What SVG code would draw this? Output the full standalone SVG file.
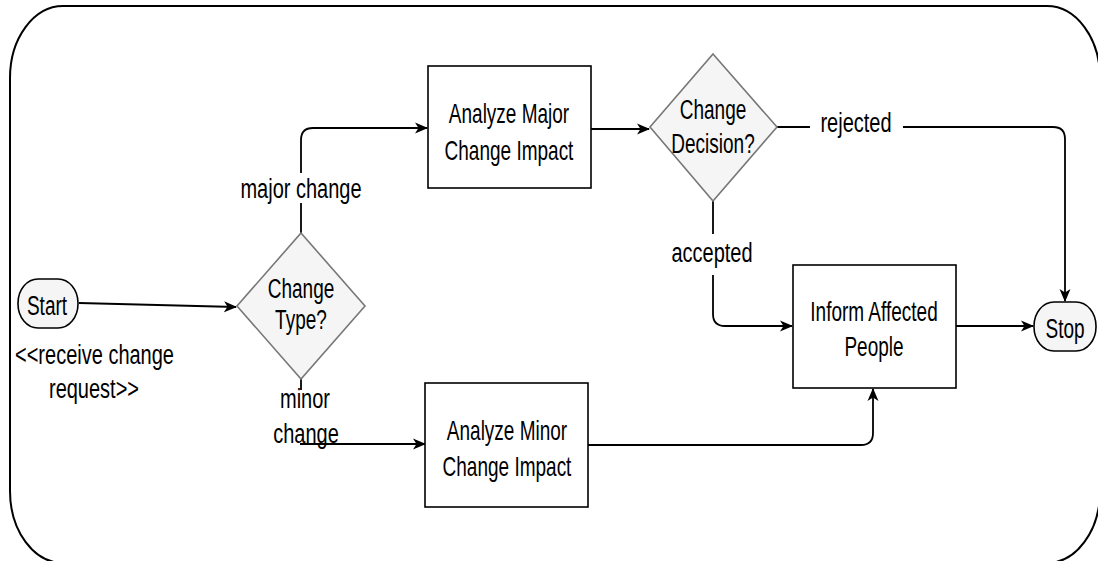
<svg xmlns="http://www.w3.org/2000/svg" width="1098" height="561" viewBox="0 0 1098 561">
<defs>
<style>
.frame{fill:#fff;stroke:#000;stroke-width:2}
.box{fill:#fff;stroke:#000;stroke-width:1.6}
.pill{fill:#f5f5f5;stroke:#000;stroke-width:1.6}
.dia{fill:#f5f5f5;stroke:#777;stroke-width:1.6}
.edge{fill:none;stroke:#000;stroke-width:1.8}
.lbl{fill:#fff;stroke:none}
text{font-family:"Liberation Sans",Arial,sans-serif;fill:#000;text-anchor:middle}
.n{font-size:19px}
.l{font-size:20px}
</style>
<marker id="arr" markerUnits="userSpaceOnUse" markerWidth="13" markerHeight="12" viewBox="0 0 13 12" refX="12" refY="6" orient="auto">
<path d="M0,0.5 L13,6 L0,11.5 L3.5,6 z" fill="#000"/>
</marker>
</defs>
<rect class="frame" x="10" y="6" width="1090" height="557" rx="53" ry="72"/>
<g id="connectors">
<path class="edge" d="M79,303 L236,307" marker-end="url(#arr)"/>
<path class="edge" d="M301,233 V140 Q301,128 313,128 H427" marker-end="url(#arr)"/>
<path class="edge" d="M301,379 V390"/>
<path class="edge" d="M300,444 H425" marker-end="url(#arr)"/>
<path class="edge" d="M591,129 H649" marker-end="url(#arr)"/>
<path class="edge" d="M777,127 H1053 Q1065,127 1065,139 V301" marker-end="url(#arr)"/>
<path class="edge" d="M713,201 V314 Q713,326 725,326 H792" marker-end="url(#arr)"/>
<path class="edge" d="M956,326 H1033" marker-end="url(#arr)"/>
<path class="edge" d="M588,445 H861 Q873,445 873,433 V389" marker-end="url(#arr)"/>
<rect class="lbl" x="236" y="173" width="130" height="30"/>
<text class="l" transform="translate(301,198) scale(1,1.4)">major change</text>
<rect class="lbl" x="810" y="112" width="93" height="28"/>
<text class="l" transform="translate(856,132) scale(1,1.4)">rejected</text>
<rect class="lbl" x="668" y="234" width="90" height="41"/>
<text class="l" transform="translate(712,262) scale(1,1.4)">accepted</text>
<text class="l" transform="translate(305,408) scale(1,1.4)">minor</text>
<text class="l" transform="translate(306,443) scale(1,1.4)">change</text>
</g>
<g id="start">
<rect class="pill" x="18" y="279" width="60" height="49" rx="20" ry="24"/>
<text class="n" transform="translate(47,315) scale(1,1.42)">Start</text>
<text class="l" style="text-anchor:start" transform="translate(15,364) scale(1,1.4)">&lt;&lt;receive change</text>
<text class="l" transform="translate(94,398) scale(1,1.4)">request&gt;&gt;</text>
</g>
<g id="change-type">
<polygon class="dia" points="301,233 365,306 301,379 237,306"/>
<text class="n" transform="translate(301,298) scale(1,1.42)">Change</text>
<text class="n" transform="translate(301,329) scale(1,1.42)">Type?</text>
</g>
<g id="analyze-major">
<rect class="box" x="428" y="66" width="163" height="122"/>
<text class="n" transform="translate(509,123) scale(1,1.45)">Analyze Major</text>
<text class="n" transform="translate(509,160) scale(1,1.45)">Change Impact</text>
</g>
<g id="change-decision">
<polygon class="dia" points="713,54 777,127 713,201 650,127"/>
<text class="n" transform="translate(713,119) scale(1,1.42)">Change</text>
<text class="n" transform="translate(713,153) scale(1,1.42)">Decision?</text>
</g>
<g id="analyze-minor">
<rect class="box" x="425" y="383" width="163" height="124"/>
<text class="n" transform="translate(507,440) scale(1,1.45)">Analyze Minor</text>
<text class="n" transform="translate(507,476) scale(1,1.45)">Change Impact</text>
</g>
<g id="inform">
<rect class="box" x="793" y="265" width="163" height="123"/>
<text class="n" transform="translate(874,321) scale(1,1.45)">Inform Affected</text>
<text class="n" transform="translate(874,356) scale(1,1.45)">People</text>
</g>
<g id="stop">
<rect class="pill" x="1034" y="302" width="62" height="49" rx="20" ry="24"/>
<text class="n" transform="translate(1065,338) scale(1,1.42)">Stop</text>
</g>
</svg>
